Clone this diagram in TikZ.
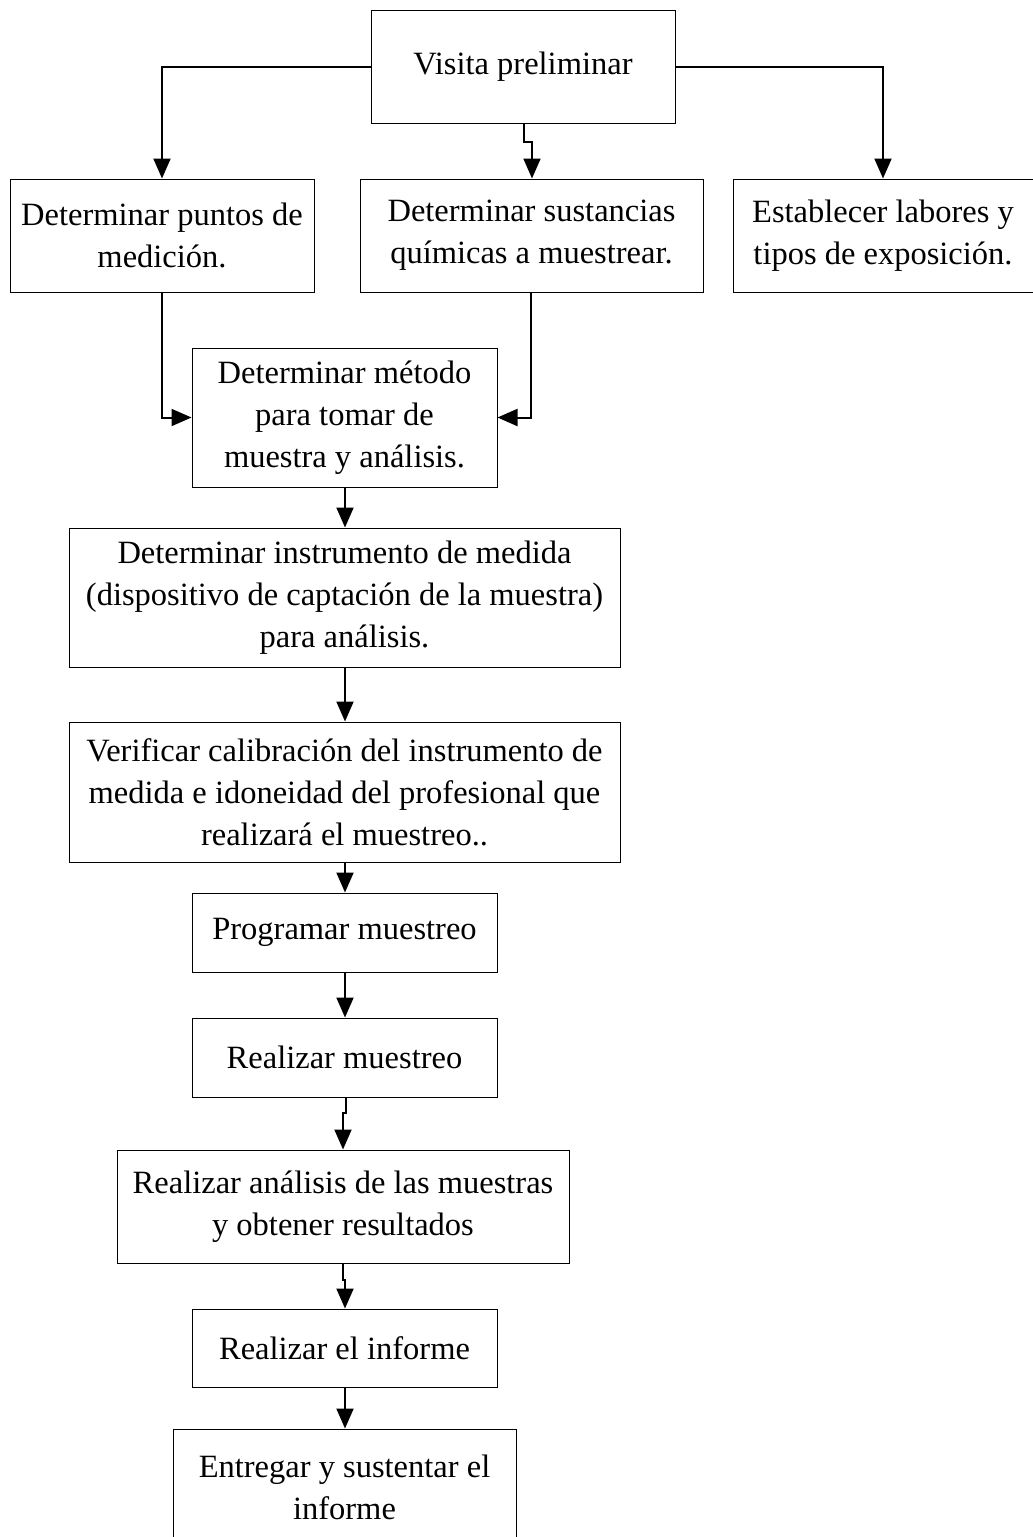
\documentclass[tikz,border=0pt]{standalone}
\usepackage{fontspec}
\setmainfont{Liberation Serif}
\usetikzlibrary{arrows.meta}
\begin{document}
\begin{tikzpicture}[x=1pt,y=-1pt,
  box/.style={draw=black, line width=1pt, inner sep=0pt, align=center,
    font=\fontsize{32.5}{42}\selectfont, fill=white},
  conn/.style={line width=2pt, -{Triangle[length=20pt,width=17pt]}}]
\fill[white] (0,0) rectangle (1033,1537);
\useasboundingbox (0,0) rectangle (1033,1537);
% row 1
\node[box, minimum width=304pt, minimum height=113pt] (visita) at (523,66.5) {Visita preliminar};
% row 2
\node[box, minimum width=304pt, minimum height=113pt] (puntos) at (162,235.5) {Determinar puntos de\\medición.};
\node[box, minimum width=343pt, minimum height=113pt] (sust) at (531.5,235.5) {Determinar sustancias\\químicas a muestrear.};
\node[box, minimum width=300pt, minimum height=113pt] (estab) at (883,235.5) {Establecer labores y\\tipos de exposición.};
% chain
\node[box, minimum width=305pt, minimum height=139pt] (metodo) at (344.5,417.5) {Determinar método\\para tomar de\\muestra y análisis.};
\node[box, minimum width=551pt, minimum height=139pt] (instr) at (344.5,597.5) {Determinar instrumento de medida\\(dispositivo de captación de la muestra)\\para análisis.};
\node[box, minimum width=551pt, minimum height=140pt] (verif) at (344.5,792) {Verificar calibración del instrumento de\\medida e idoneidad del profesional que\\realizará el muestreo..};
\node[box, minimum width=305pt, minimum height=79pt] (prog) at (344.5,932.5) {Programar muestreo};
\node[box, minimum width=305pt, minimum height=79pt] (realiz) at (344.5,1057.5) {Realizar muestreo};
\node[box, minimum width=452pt, minimum height=113pt] (anal) at (343,1206.5) {Realizar análisis de las muestras\\y obtener resultados};
\node[box, minimum width=305pt, minimum height=78pt] (inf) at (344.5,1348) {Realizar el informe};
\node[box, minimum width=343pt, minimum height=116pt] (entr) at (344.5,1487) {Entregar y sustentar el\\informe};
% connectors from visita
\draw[conn] (visita.west) -| (puntos.north);
\draw[conn] (visita.east) -| (estab.north);
\draw[conn] (visita.south -| 524,0) -- (524,142) -- (532,142) -- (532,0 |- sust.north);
% into metodo
\draw[conn] (puntos.south) |- (metodo.west);
\draw[conn] (sust.south -| 531,0) |- (metodo.east);
% chain
\draw[conn] (metodo.south -| 345,0) -- (instr.north -| 345,0);
\draw[conn] (instr.south -| 345,0) -- (verif.north -| 345,0);
\draw[conn] (verif.south -| 345,0) -- (prog.north -| 345,0);
\draw[conn] (prog.south -| 345,0) -- (realiz.north -| 345,0);
\draw[conn] (realiz.south -| 346,0) -- (346,1113) -- (343,1113) -- (anal.north -| 343,0);
\draw[conn] (anal.south -| 343,0) -- (343,1280) -- (345,1280) -- (inf.north -| 345,0);
\draw[conn] (inf.south -| 345,0) -- (entr.north -| 345,0);
\end{tikzpicture}
\end{document}
